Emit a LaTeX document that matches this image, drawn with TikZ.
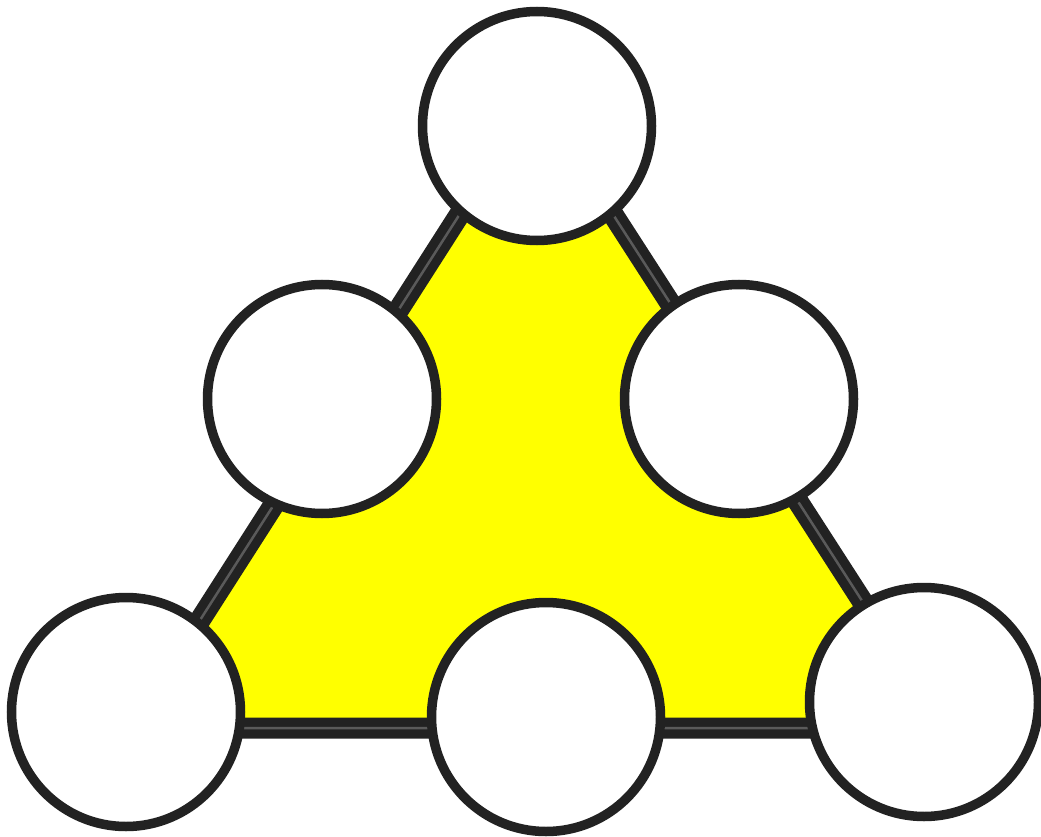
\documentclass[tikz,border=0pt]{standalone}
\definecolor{ink}{HTML}{222222}
\definecolor{midgray}{HTML}{5A5A5A}
\definecolor{tri}{HTML}{FFFF00}
\begin{document}
\begin{tikzpicture}[x=1pt,y=-1pt,
  ball/.style={circle,draw=ink,line width=9.5pt,fill=white,minimum size=229pt,inner sep=0pt}]
\useasboundingbox (0,0) rectangle (1041,837);
\coordinate (A) at (536,95);
\coordinate (B) at (131,728);
\coordinate (C) at (944,728);
\fill[tri] (A) -- (B) -- (C) -- cycle;
\draw[ink,line width=21pt,line join=miter] (A) -- (B) -- (C) -- cycle;
\draw[midgray,line width=2.5pt] (A) -- (B) -- (C) -- cycle;
\node[ball] (top) at (537,126) {};
\node[ball] (ml) at (322,399) {};
\node[ball] (mr) at (739,399) {};
\node[ball] (bl) at (126,712) {};
\node[ball] (bc) at (546,717) {};
\node[ball] (br) at (924,702) {};
\end{tikzpicture}
\end{document}
